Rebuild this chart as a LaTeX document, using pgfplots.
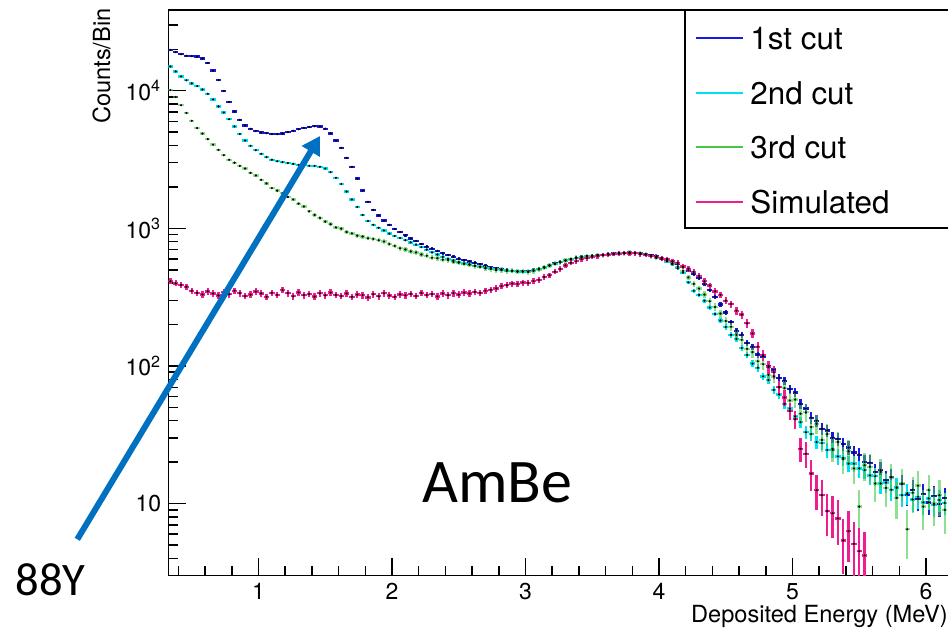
\documentclass[border=0pt]{standalone}
\usepackage{fontspec}
\setmainfont{TeX Gyre Heros}
\newfontfamily\calibri{Carlito}
\usepackage{pgfplots}
\usepackage{pgfplotstable}
\pgfplotsset{compat=1.18}
\usetikzlibrary{arrows.meta}

\definecolor{cB}{RGB}{25,25,225}
\definecolor{cC}{RGB}{0,225,240}
\definecolor{cG}{RGB}{70,200,70}
\definecolor{cS}{RGB}{238,30,145}
\definecolor{arrowblue}{RGB}{0,112,192}

\pgfplotstableread{
x B C G
0.34 19800 15000 10100
0.38 19100 13800 9000
0.42 18400 12700 7850
0.46 17950 11900 6900
0.50 17800 11300 6050
0.54 17700 10800 5350
0.58 17150 10200 4880
0.62 15900 9500 4450
0.66 14000 8650 4060
0.70 11950 7700 3720
0.74 9950 6950 3400
0.78 8300 6200 3150
0.82 7050 5500 3000
0.86 6150 4850 2840
0.90 5600 4350 2720
0.94 5280 3980 2530
0.98 5100 3700 2420
1.02 4980 3480 2250
1.06 4920 3290 2120
1.10 4850 3150 1960
1.14 4830 3070 1880
1.18 4880 3030 1800
1.22 5000 2980 1690
1.26 5120 2940 1620
1.30 5250 2890 1510
1.34 5370 2870 1440
1.38 5450 2850 1330
1.42 5520 2840 1250
1.46 5500 2800 1190
1.50 5300 2720 1120
1.54 4900 2560 1070
1.58 4350 2330 1015
1.62 3850 2100 995
1.66 3250 1850 940
1.70 2800 1620 918
1.74 2300 1430 885
1.78 1880 1250 872
1.82 1560 1130 846
1.86 1360 1060 838
1.90 1240 1010 818
1.94 1140 965 802
1.98 1060 915 768
2.02 990 880 745
2.06 940 850 716
2.10 890 820 702
2.14 845 790 680
2.18 810 760 668
2.22 770 730 645
2.26 735 700 632
2.30 710 670 612
2.34 685 645 606
2.38 660 620 592
2.42 640 600 588
2.46 620 585 570
2.50 600 568 564
2.54 588 555 552
2.58 575 545 547
2.62 560 535 532
2.66 550 525 527
2.70 535 516 512
2.74 522 510 507
2.78 512 505 496
2.82 505 500 497
2.86 498 495 490
2.90 492 490 492
2.94 488 486 484
2.98 486 484 487
3.02 485 484 483
3.06 498 494 490
3.10 508 505 503
3.14 523 520 518
3.18 541 538 536
3.22 555 552 553
3.26 570 568 566
3.30 587 583 585
3.34 598 596 594
3.38 610 608 612
3.42 622 618 616
3.46 628 626 630
3.50 633 631 629
3.54 638 636 640
3.58 643 640 638
3.62 650 647 652
3.66 655 652 650
3.70 660 657 662
3.74 664 660 658
3.78 666 662 668
3.82 664 658 660
3.86 658 652 655
3.90 650 643 646
3.94 640 630 628
3.98 625 612 615
4.02 612 596 600
4.06 598 575 582
4.10 575 548 556
4.14 550 512 525
4.18 525 476 490
4.22 495 405 440
4.26 465 352 395
4.30 435 328 365
4.34 395 298 330
4.38 355 266 295
4.42 318 238 268
4.46 280 214 240
4.50 245 192 212
4.54 208 168 193
4.58 180 157 168
4.62 168 135 155
4.66 146 120 133
4.70 137 104 126
4.74 121 97 108
4.78 117 84 103
4.82 100 79 86
4.86 94 67 84
4.90 82 62 70
4.94 78 53 69
4.98 68 49 56
5.02 64 43 57
5.06 53 39 45
5.10 49 33 46
5.14 42 32 36
5.18 40 28 38
5.22 35 27.5 29
5.26 34 24.5 32
5.30 30 24.5 25
5.34 29.5 22 28
5.38 27 21.5 21
5.42 25.5 19.5 24
5.46 23.5 19.5 18
5.50 22.5 18 9.5
5.54 20 17.5 19
5.58 19.8 16.0 18.5
5.62 17.0 15.8 14.0
5.66 17.5 14.0 17.0
5.70 14.8 14.2 13.0
5.74 15.6 12.6 15.5
5.78 13.0 13.1 11.0
5.82 13.8 11.5 14.0
5.86 11.6 11.9 6.5
5.90 12.6 10.7 12.0
5.94 10.8 11.2 13.5
5.98 11.8 10.2 9.5
6.02 10.2 10.9 12.5
6.06 11.4 9.8 10.0
6.10 9.9 10.6 11.5
6.14 11.0 10.1 9.0
}\tabCuts

\pgfplotstableread{
x S
0.34 412
0.38 398
0.42 388
0.46 376
0.50 352
0.54 340
0.58 331
0.62 348
0.66 336
0.70 325
0.74 344
0.78 332
0.82 352
0.86 338
0.90 322
0.94 330
0.98 347
1.02 336
1.06 318
1.10 340
1.14 329
1.18 356
1.22 338
1.26 321
1.30 342
1.34 327
1.38 333
1.42 319
1.46 337
1.50 326
1.54 341
1.58 328
1.62 322
1.66 336
1.70 318
1.74 330
1.78 327
1.82 315
1.86 332
1.90 321
1.94 337
1.98 325
2.02 318
2.06 331
2.10 326
2.14 334
2.18 322
2.22 339
2.26 328
2.30 333
2.34 320
2.38 336
2.42 327
2.46 338
2.50 330
2.54 341
2.58 336
2.62 345
2.66 340
2.70 352
2.74 358
2.78 366
2.82 380
2.86 386
2.90 397
2.94 394
2.98 404
3.02 401
3.06 414
3.10 422
3.14 443
3.18 456
3.22 484
3.26 506
3.30 538
3.34 562
3.38 576
3.42 598
3.46 606
3.50 621
3.54 628
3.58 640
3.62 643
3.66 652
3.70 654
3.74 661
3.78 656
3.82 660
3.86 648
3.90 642
3.94 630
3.98 622
4.02 604
4.06 594
4.10 576
4.14 563
4.18 528
4.22 508
4.26 482
4.30 452
4.34 412
4.38 384
4.42 348
4.46 328
4.50 298
4.54 282
4.58 252
4.62 236
4.66 204
4.70 172
4.74 138
4.78 120
4.82 98
4.86 90
4.90 70
4.94 59
4.98 47
5.02 41
5.06 25
5.10 23
5.14 16.5
5.18 12.5
5.22 11.5
5.26 8.8
5.30 8.5
5.34 7.8
5.38 5.4
5.42 6.3
5.46 5.1
5.50 4.5
5.54 4.2
}\tabSim

\begin{document}
\begin{tikzpicture}
\useasboundingbox (0,0) rectangle (474pt,313.5pt);
\clip (0,0) rectangle (474pt,313.5pt);
\begin{axis}[
  at={(84.125pt,25.75pt)}, anchor=south west,
  scale only axis, width=398.9pt, height=282.75pt,
  xmin=0.324, xmax=6.3, ymode=log, ymin=3, ymax=38600,
  axis line style={line width=0.75pt},
  every tick/.style={black, line width=0.75pt},
  major tick length=9pt, minor tick length=4.8pt,
  xtick pos=left, ytick pos=left,
  xtick={1,2,3,4,5,6}, xticklabels={1,2,3,4,5,6},
  minor xtick={0.4,0.6,0.8,1.2,1.4,1.6,1.8,2.2,2.4,2.6,2.8,3.2,3.4,3.6,3.8,4.2,4.4,4.6,4.8,5.2,5.4,5.6,5.8,6.2},
  ytick={10,100,1000,10000},
  yticklabels={10,10\textsuperscript{2},10\textsuperscript{3},10\textsuperscript{4}},
  minor ytick={4,5,6,7,8,9,20,30,40,50,60,70,80,90,200,300,400,500,600,700,800,900,2000,3000,4000,5000,6000,7000,8000,9000,20000,30000},
  tick label style={font=\fontsize{11.5}{13}\selectfont},
  xticklabel style={inner sep=0pt, yshift=-3.6pt},
  legend image code/.code={\draw[#1] (0pt,0pt) -- (23.5pt,0pt);},
  legend cell align=left,
  legend style={at={(axis description cs:0.6603,0.9708)}, anchor=north west, draw=none, fill=none, inner sep=0pt, row sep=15.95pt, font=\fontsize{15.7}{18}\selectfont, nodes={inner xsep=3pt, inner ysep=0pt, text height=11.3pt, text depth=0pt}},
]
\addplot[forget plot, only marks, mark=*, mark size=0.32pt, mark options={draw=none, fill=black},
  error bars/.cd, x dir=both, x fixed=0.02, y dir=both, y explicit, error mark=none,
  error bar style={cB, line width=1.15pt}]
  table[x=x, y=B, y error expr=0.6*sqrt(\thisrow{B})] {\tabCuts};
\addplot[forget plot, only marks, mark=*, mark size=0.32pt, mark options={draw=none, fill=black},
  error bars/.cd, x dir=both, x fixed=0.02, y dir=both, y explicit, error mark=none,
  error bar style={cC, line width=1.15pt}]
  table[x=x, y=C, y error expr=0.6*sqrt(\thisrow{C})] {\tabCuts};
\addplot[forget plot, only marks, mark=*, mark size=0.32pt, mark options={draw=none, fill=black},
  error bars/.cd, x dir=both, x fixed=0.02, y dir=both, y explicit, error mark=none,
  error bar style={cG, opacity=0.6, line width=1.15pt}]
  table[x=x, y=G, y error expr=sqrt(\thisrow{G})] {\tabCuts};
\addplot[forget plot, only marks, mark=*, mark size=0.32pt, mark options={draw=none, fill=black},
  error bars/.cd, x dir=both, x fixed=0.02, y dir=both, y explicit, error mark=none,
  error bar style={cS, line width=1.15pt}]
  table[x=x, y=S, y error expr=sqrt(\thisrow{S})] {\tabSim};
\draw[line width=0.75pt] (axis cs:4.195,1005) rectangle (axis cs:6.6,50000);
\addlegendimage{cB, line width=1pt}
\addlegendimage{cC, line width=1pt}
\addlegendimage{cG, line width=1pt}
\addlegendimage{cS, line width=1pt}
\legend{1st cut, 2nd cut, 3rd cut, Simulated}
\end{axis}
\node[rotate=90, anchor=base east, inner sep=0pt, font=\fontsize{11.8}{14}\selectfont] at (55pt,309.5pt) {Counts/Bin};
\node[anchor=base west, inner sep=0pt, font=\fontsize{11.8}{14}\selectfont] at (345.35pt,2.5pt) {Deposited Energy (MeV)};
\node[anchor=base west, inner sep=0pt, font=\calibri\fontsize{31}{36}\selectfont] at (211pt,62.5pt) {AmBe};
\node[anchor=base west, inner sep=0pt, font=\calibri\fontsize{23.3}{28}\selectfont] at (7.5pt,16pt) {88Y};
\draw[arrowblue, line width=3pt, -{Triangle[length=9pt,width=10pt]}] (38.65pt,43.85pt) -- (160pt,245.5pt);
\end{tikzpicture}
\end{document}
